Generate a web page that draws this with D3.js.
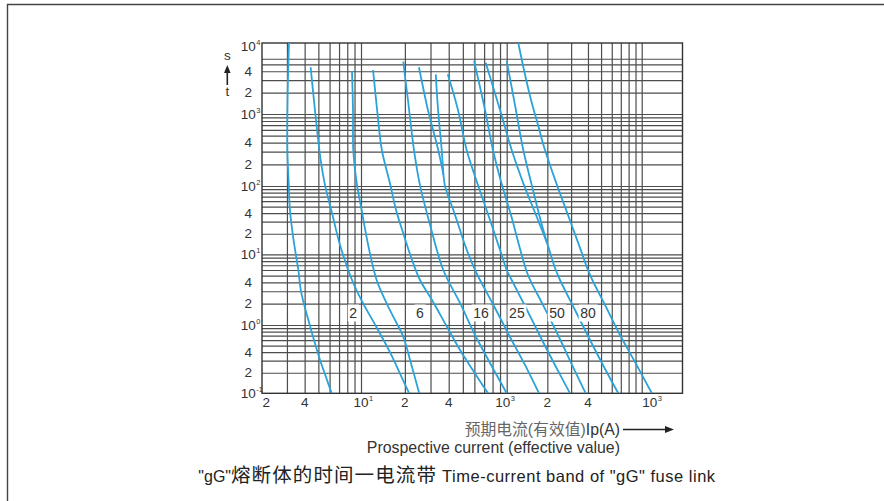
<!DOCTYPE html>
<html><head><meta charset="utf-8">
<script src="https://cdn.jsdelivr.net/npm/d3@7"></script>
<style>
body{margin:0;background:#fff;}
svg{display:block;}
text{font-family:"Liberation Sans","Noto Sans CJK SC",Arial,sans-serif;}
</style>
</head><body>
<svg id="chart" width="884" height="501"></svg>
<script>
// ---------------- data ----------------
const xDecadeValues = [2, 10, 100, 1000, 2000];
const yDecadeValues = [0.1, 1, 10, 100, 1000, 10000];
const xGridValues = [3,4,5,6,7,8,9,10,20,30,40,50,60,70,80,90,100,200,300,400,500,600,700,800,900,1000];
const yGridValues = [0.2,0.3,0.4,0.5,0.6,0.7,0.8,0.9,1,2,3,4,5,6,7,8,9,10,20,30,40,50,60,70,80,90,100,200,300,400,500,600,700,800,900,1000,2000,3000,4000,5000,6000];
const xTickValues = [2,4,10,20,40,100,200,400,1000];
const xTickLabels = [["2"],["4"],["10","1"],["2"],["4"],["10","3"],["2"],["4"],["10","3"]];
const yTickValues = [10000,4000,2000,1000,400,200,100,40,20,10,4,2,1,0.4,0.2,0.1];
const yTickLabels = [["10","4"],["4"],["2"],["10","3"],["4"],["2"],["10","2"],["4"],["2"],["10","1"],["4"],["2"],["10","0"],["4"],["2"],["10","-1"]];

// curves: [prospective current (A), time (s)]
const curveA = [[3.10,10000],[3.03,1575],[3.02,316],[3.08,121],[3.15,44.5],[3.34,16.2],[3.61,6.0],[3.79,2.84],[4.25,1.18],[4.66,0.60],[5.13,0.31],[5.66,0.173],[6.21,0.1]];
const curveB = [[4.41,4550],[4.73,1140],[5.19,230],[5.57,103],[6.21,42],[7.11,13.7],[8.64,4.33],[10.3,2.05],[12.3,1.07],[15.8,0.40],[19.4,0.157],[21.4,0.1]];
const curveC = [[8.64,4000],[8.78,1140],[8.82,316],[9.33,110],[10.1,44.5],[11.2,13.7],[12.8,4.33],[15.0,2.03],[17.1,1.18],[19.5,0.674],[22.0,0.278],[25.1,0.1]];
const curveD = [[12.1,4170],[12.9,1140],[13.9,316],[15.8,109],[17.4,44.5],[19.5,20.3],[22.4,8.3],[25.4,4.33],[30.7,2.26],[38.3,1.0],[47.8,0.43],[59.7,0.205],[74.4,0.1]];
const curveE = [[19.5,5450],[21.0,1575],[23.1,316],[25.4,103],[29.8,26.9],[36.7,6.0],[47.8,2.05],[60.6,0.714],[76.8,0.278],[100,0.1]];
const curveF = [[25.0,4550],[28.8,1140],[33.9,316],[36.8,142],[37.7,100],[44.2,37.6],[52.6,12.4],[60.6,6.0],[65.6,4.33],[83.1,1.74],[105.8,0.668],[136.6,0.26],[173.5,0.1]];
const curveG = [[32.6,3620],[33.8,1140],[35.8,316],[36.8,142]];
const curveH = [[39.4,3620],[46.3,1140],[53.1,316],[63.5,103],[76.8,31.8],[90.0,11.6],[100,6.0],[108.9,4.33],[141.4,1.63],[182.6,0.603],[231.8,0.243],[294.4,0.1]];
const curveI = [[59.7,5580],[71.0,1140],[80.5,316],[92.8,103],[107.6,37.6],[123.3,13.7],[143.8,5.1],[185.7,1.92],[239.9,0.714],[304.6,0.26],[384.8,0.1]];
const curveJ = [[71.8,5280],[90.0,1140],[108.9,316],[134.3,103],[164.8,37.6],[198.9,14.6],[227.9,6.4],[248.3,4.33],[320.7,1.63],[414,0.603],[525.8,0.243],[671,0.1]];
const curveK = [[100,5580],[115.2,1339],[132.7,316],[156.6,87.4],[176.5,34.0],[198.9,14.6]];
const curveL = [[121.9,10000],[134.3,4170],[151.4,1575],[170.6,704],[192.1,316],[235.8,103],[284.5,37.6],[349.1,12.4],[414,5.1],[534.8,1.92],[690.8,0.714],[892,0.287],[1188,0.1]];
const curves = [curveA,curveB,curveC,curveD,curveE,curveF,curveG,curveH,curveI,curveJ,curveK,curveL];

const ratingLabels = ["2","6","16","25","50","80"];
const ratingLabelCurrent = [8.8, 25.4, 66.6, 119, 236, 400];
const ratingLabelTime = 1.48;

// ---------------- drawing ----------------
const svg = d3.select("#chart");
const L = 262, R = 682.5, T = 43, B = 393.3;
const x = d3.scaleLog().domain(xDecadeValues).range([L, 361, 506.7, 641.7, R]);
const y = d3.scaleLog().domain(yDecadeValues).range([B, 325, 254.3, 186, 114, T]);

const ink = "#333";
// outer frame
svg.append("path").attr("d", `M7.5,501 V4.5 H884`).attr("fill","none").attr("stroke","#444").attr("stroke-width",1.4);

// grid via axes
const gGrid = svg.append("g");
gGrid.append("g").attr("transform",`translate(0,${B})`)
  .call(d3.axisBottom(x).tickValues(xGridValues).tickSize(-(B-T)).tickFormat(""))
  .call(g=>g.select(".domain").remove())
  .call(g=>g.selectAll("line").attr("stroke","#4d4d4d").attr("stroke-width",1.2));
gGrid.append("g").attr("transform",`translate(${L},0)`)
  .call(d3.axisLeft(y).tickValues(yGridValues).tickSize(-(R-L)).tickFormat(""))
  .call(g=>g.select(".domain").remove())
  .call(g=>g.selectAll("line").attr("stroke","#4d4d4d").attr("stroke-width",1.2));
svg.append("rect").attr("x",L).attr("y",T).attr("width",R-L).attr("height",B-T)
  .attr("fill","none").attr("stroke","#333").attr("stroke-width",1.4);

// curves
svg.append("clipPath").attr("id","clip").append("rect").attr("x",L).attr("y",T).attr("width",R-L).attr("height",B-T);
const line = d3.line().x(d=>x(d[0])).y(d=>y(d[1])).curve(d3.curveCatmullRom.alpha(0.5));
svg.append("g").attr("clip-path","url(#clip)").selectAll("path").data(curves).join("path")
  .attr("d", line).attr("fill","none").attr("stroke","#2ba3d9").attr("stroke-width",1.8);

// rating labels
const lab = svg.append("g").selectAll("g").data(ratingLabels).join("g")
  .attr("transform",(d,i)=>`translate(${x(ratingLabelCurrent[i])},${y(ratingLabelTime)})`);
lab.append("text").text(d=>d).attr("text-anchor","middle").attr("dy","0.36em")
  .attr("font-size",14).attr("fill",ink);
lab.each(function(){
  const t = d3.select(this).select("text").node().getBBox();
  d3.select(this).insert("rect","text").attr("x",t.x-1.5).attr("y",t.y-0.5).attr("width",t.width+3).attr("height",t.height+1).attr("fill","#fff");
});

// tick labels helper
function powLabel(g, parts, cx, baseY, anchorStart){
  const t = g.append("text").attr("y",baseY).attr("font-size",13.5).attr("fill",ink).text(parts[0]);
  const w = t.node().getComputedTextLength();
  const x0 = anchorStart ? cx : cx - w/2;
  t.attr("x", x0);
  if (parts.length>1){
    g.append("text").attr("x",x0+w+0.5).attr("y",baseY-6).attr("font-size",7.5).attr("fill",ink).text(parts[1]);
  }
}
const gx = svg.append("g");
xTickValues.forEach((v,i)=>{
  let cx = x(v), start=false;
  if (i===0){ start=true; cx = L+0.5; }
  if (v===100) cx -= 4;
  if (v===1000) cx += 8;
  powLabel(gx, xTickLabels[i], cx, 407, start);
});
const gy = svg.append("g");
yTickValues.forEach((v,i)=>{
  let cy = y(v);
  if (v===10000) cy += 3.5;
  powLabel(gy, yTickLabels[i], 248.3, cy+4.7, false);
});

// y-axis symbol s ↑ t
svg.append("text").attr("x",227.3).attr("y",60).attr("text-anchor","middle").attr("font-size",13.5).attr("fill",ink).text("s");
svg.append("line").attr("x1",227.3).attr("x2",227.3).attr("y1",85).attr("y2",71).attr("stroke","#222").attr("stroke-width",1.6);
svg.append("path").attr("d","M227.3,65 L230.6,73 L224,73 Z").attr("fill","#222");
svg.append("text").attr("x",227.3).attr("y",96).attr("text-anchor","middle").attr("font-size",13.5).attr("fill",ink).text("t");

// x-axis titles
const t1 = svg.append("text").attr("x",620).attr("y",434.5).attr("text-anchor","end").attr("font-size",15.8);
t1.append("tspan").attr("fill","#666").text("预期电流(有效值)");
t1.append("tspan").attr("fill","#333").text("Ip(A)");
svg.append("line").attr("x1",623).attr("x2",667).attr("y1",429.5).attr("y2",429.5).attr("stroke","#222").attr("stroke-width",1.6);
svg.append("path").attr("d","M674,429.5 L665,426 L665,433 Z").attr("fill","#222");
svg.append("text").attr("x",620).attr("y",452.5).attr("text-anchor","end").attr("font-size",15.9).attr("fill","#333")
  .text("Prospective current (effective value)");

// caption
const cap = svg.append("text").attr("x",198.3).attr("y",482).attr("fill","#222");
cap.append("tspan").attr("font-size",16).text("\"gG\"");
cap.append("tspan").attr("font-size",19.5).attr("letter-spacing",1.1).text("熔断体的时间一电流带");
cap.append("tspan").attr("font-size",16.5).attr("letter-spacing",0.5).text(" Time-current band of \"gG\" fuse link");
</script>
</body></html>
